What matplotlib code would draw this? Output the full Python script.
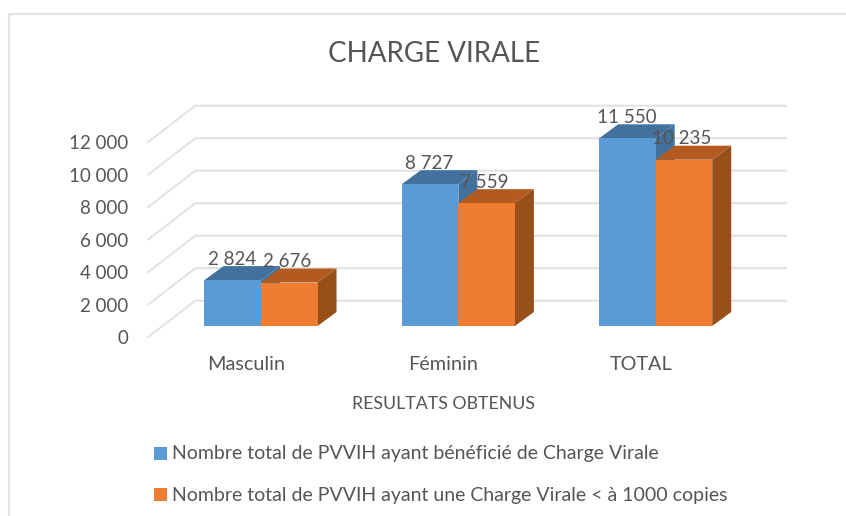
import matplotlib
matplotlib.use("Agg")
import matplotlib.pyplot as plt
from matplotlib.patches import Rectangle

plt.rcParams['font.family'] = ['Lato', 'DejaVu Sans']

# data
categories = ["Masculin", "Féminin", "TOTAL"]
series_names = ["Nombre total de PVVIH ayant bénéficié de Charge Virale",
                "Nombre total de PVVIH ayant une Charge Virale < à 1000 copies"]
total_pvvih = [2824, 8727, 11550]
suppressed = [2676, 7559, 10235]
y_ticks = [0, 2000, 4000, 6000, 8000, 10000, 12000]

# colours
blue, blue_dark = "#5B9BD5", "#41719C"
orange, orange_top, orange_side = "#ED7D31", "#B25A1F", "#984F1A"
grid_col = "#E1E1E1"
text_col = "#555555"

W, H = 846, 516
fig = plt.figure(figsize=(W / 100, H / 100), dpi=100)
ax = fig.add_axes([0, 0, 1, 1])

# scale of the chart: pixels per category and per unit of value
px_x = 197.35
px_y = 0.01625
x0_px, y0_px = 261.0, 326.0
ax.set_xlim(-x0_px / px_x, (W - x0_px) / px_x)
ax.set_ylim(-(H - y0_px) / px_y, y0_px / px_y)
ax.axis("off")


def nice(v):
    return f"{v:,}".replace(",", " ")


# fake 3d: depth of the bars and of the floor, in data units
bar_w = 0.2865
bar_dx, bar_dy = 19 / px_x, 14 / px_y
wall_x0, wall_x1, grid_x1 = -0.576, -0.333, 2.666
front_shift, back_shift = -11.7 / px_y, 25.3 / px_y

for t in y_ticks:
    ax.plot([wall_x0, wall_x1, grid_x1], [t + front_shift, t + back_shift, t + back_shift],
            color=grid_col, lw=1.4, zorder=1, solid_capstyle="butt")
    ax.annotate(nice(t), (wall_x0, t + front_shift), xytext=(-19, -1), textcoords="offset pixels",
                ha="right", va="center", fontsize=13.5, color=text_col)


def bar3d(x, h, front, top, side, z):
    x1 = x + bar_w
    ax.add_patch(Rectangle((x, 0), bar_w, h, fc=front, ec="none", zorder=z + 0.2))
    ax.fill([x, x1, x1 + bar_dx, x + bar_dx], [h, h, h + bar_dy, h + bar_dy],
            fc=top, ec="none", zorder=z)
    ax.fill([x1, x1 + bar_dx, x1 + bar_dx, x1], [0, bar_dy, h + bar_dy, h],
            fc=side, ec="none", zorder=z)


for i in range(len(categories)):
    bar3d(i - bar_w, total_pvvih[i], blue, blue_dark, blue_dark, 2)
    bar3d(i, suppressed[i], orange, orange_top, orange_side, 3)

# data labels
for i in range(len(categories)):
    ax.annotate(nice(total_pvvih[i]), (i - bar_w / 2, total_pvvih[i]), xytext=(-1, 21),
                textcoords="offset pixels", ha="center", va="center", fontsize=13.5, color=text_col, zorder=6)
    ax.annotate(nice(suppressed[i]), (i + bar_w / 2, suppressed[i]), xytext=(-2, 21),
                textcoords="offset pixels", ha="center", va="center", fontsize=13.5, color=text_col, zorder=6)
    ax.annotate(categories[i], (i, 0), xytext=(-15, -38), textcoords="offset pixels",
                ha="center", va="center", fontsize=14.3, color=text_col)

# texts placed in figure pixels
fig.text(434 / W, 1 - 54 / H, "CHARGE VIRALE", ha="center", va="center", fontsize=20, color=text_col)
fig.text(443 / W, 1 - 404 / H, "RESULTATS OBTENUS", ha="center", va="center", fontsize=12.8, color=text_col)

# legend
for name, col, y in zip(series_names, [blue, orange], [453, 494]):
    fig.patches.append(Rectangle((154 / W, 1 - (y + 6.5) / H), 13 / W, 13 / H, fc=col, ec="none",
                                 transform=fig.transFigure, figure=fig))
    fig.text(172 / W, 1 - (y + 1) / H, name, ha="left", va="center", fontsize=14, color=text_col)

# chart frame, cut by the page edge
ax.plot([9 / W, 9 / W, 1], [0, 1 - 13.5 / H, 1 - 13.5 / H], transform=fig.transFigure,
        color="#E4E4E4", lw=1.6, zorder=0)

fig.savefig("out.png", dpi=100)
